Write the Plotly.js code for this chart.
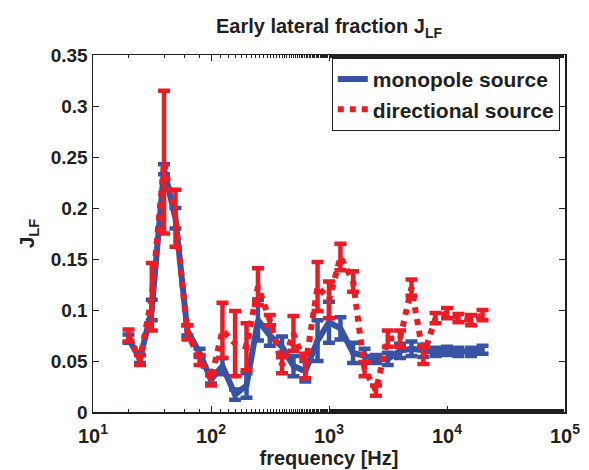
<!DOCTYPE html>
<html>
<head>
<meta charset="utf-8">
<script src="https://cdn.plot.ly/plotly-3.0.1.min.js"></script>
<style>html,body{margin:0;padding:0;background:#fff;}#chart{width:589px;height:470px;}</style>
</head>
<body>
<div id="chart"></div>
<script>
const freqs = [20, 25, 31.5, 40, 50, 63, 80, 100, 125, 160, 200, 250, 315, 400, 500, 630, 800, 1000, 1250, 1600, 2000, 2500, 3150, 4000, 5000, 6300, 8000, 10000, 12500, 16000, 20000];
const monoVals = [0.072, 0.052, 0.100, 0.238, 0.190, 0.080, 0.058, 0.032, 0.045, 0.017, 0.026, 0.090, 0.075, 0.064, 0.045, 0.040, 0.070, 0.088, 0.082, 0.058, 0.055, 0.052, 0.052, 0.060, 0.062, 0.060, 0.059, 0.060, 0.059, 0.059, 0.061];
const monoErr  = [0.004, 0.004, 0.010, 0.005, 0.010, 0.005, 0.004, 0.004, 0.008, 0.005, 0.012, 0.020, 0.010, 0.010, 0.010, 0.010, 0.020, 0.020, 0.011, 0.010, 0.007, 0.004, 0.006, 0.007, 0.007, 0.006, 0.004, 0.004, 0.004, 0.004, 0.004];
const dirVals  = [0.075, 0.051, 0.113, 0.245, 0.190, 0.078, 0.051, 0.032, 0.080, 0.067, 0.064, 0.123, 0.090, 0.046, 0.077, 0.045, 0.123, 0.110, 0.152, 0.128, 0.042, 0.021, 0.072, 0.072, 0.122, 0.055, 0.092, 0.097, 0.092, 0.090, 0.095];
const dirErr   = [0.006, 0.005, 0.033, 0.070, 0.028, 0.007, 0.005, 0.006, 0.027, 0.032, 0.023, 0.018, 0.005, 0.008, 0.017, 0.012, 0.024, 0.018, 0.013, 0.010, 0.007, 0.005, 0.008, 0.008, 0.008, 0.008, 0.005, 0.005, 0.004, 0.005, 0.005];
const xTickVals = [10, 100, 1000, 10000, 100000];
const xTickText = ['10<sup>1</sup>', '10<sup>2</sup>', '10<sup>3</sup>', '10<sup>4</sup>', '10<sup>5</sup>'];

const blue = '#3953a4';
const red = '#ed1c24';
const fontFam = 'Liberation Sans, Arial, Helvetica, sans-serif';
const txt = '#231f20';

const traces = [
  {
    x: freqs, y: monoVals, type: 'scatter', mode: 'lines', name: 'monopole source',
    line: {color: blue, width: 6},
    error_y: {type: 'data', array: monoErr, visible: true, color: blue, thickness: 4.5, width: 6}
  },
  {
    x: freqs, y: dirVals, type: 'scatter', mode: 'lines', name: 'directional source',
    line: {color: red, width: 6, dash: 'dot'},
    error_y: {type: 'data', array: dirErr, visible: true, color: red, thickness: 4.5, width: 6}
  }
];

const layout = {
  width: 589, height: 470,
  margin: {l: 93, r: 24, t: 55, b: 58},
  paper_bgcolor: '#fff', plot_bgcolor: '#fff',
  font: {family: fontFam, color: txt, size: 18, weight: 'bold'},
  title: {text: 'Early lateral fraction J<sub>LF</sub>', font: {size: 20, weight: 'bold', color: txt},
          xref: 'paper', x: 0.5, xanchor: 'center', yref: 'container', y: 0.944, yanchor: 'middle'},
  showlegend: true,
  legend: {x: 0.989, y: 0.992, xanchor: 'right', yanchor: 'top', bgcolor: '#fff', bordercolor: txt, borderwidth: 1,
           font: {size: 21, weight: 'bold', color: txt}, tracegroupgap: 0, itemwidth: 30},
  xaxis: {
    type: 'log', range: [1, 5], tickvals: xTickVals, ticktext: xTickText,
    ticks: 'inside', ticklen: 6, tickwidth: 1, tickcolor: txt,
    showline: true, linecolor: txt, linewidth: 1.5, mirror: 'ticks',
    showgrid: false, zeroline: false, ticklabelstandoff: 5,
    tickfont: {size: 20, weight: 'bold', color: txt},
    minor: {ticks: 'inside', ticklen: 3, tickcolor: txt, tickwidth: 1, showgrid: false},
    title: {text: 'frequency [Hz]', font: {size: 20, weight: 'bold', color: txt}, standoff: 4}
  },
  yaxis: {
    range: [0, 0.35], dtick: 0.05, tick0: 0,
    ticks: 'inside', ticklen: 6, tickwidth: 1, tickcolor: txt,
    showline: true, linecolor: txt, linewidth: 1.5, mirror: 'ticks',
    showgrid: false, zeroline: false,
    tickfont: {size: 19, weight: 'bold', color: txt},
    title: {text: 'J<sub>LF</sub>', font: {size: 21, weight: 'bold', color: txt}, standoff: 10}
  }
};

Plotly.newPlot('chart', traces, layout, {displayModeBar: false, staticPlot: true});
</script>
</body>
</html>
